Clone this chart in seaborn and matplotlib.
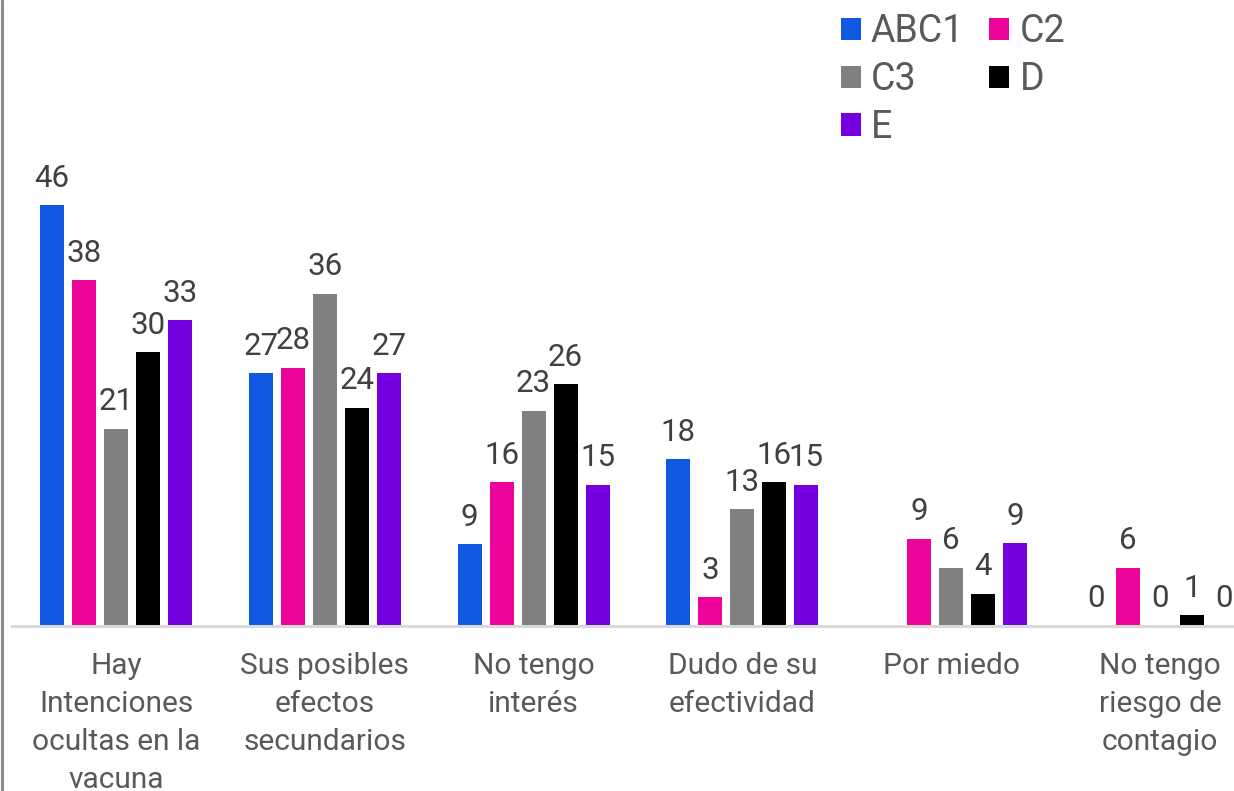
import numpy as np
import pandas as pd
import seaborn as sns
import matplotlib.pyplot as plt
from matplotlib.lines import Line2D
from matplotlib.patches import Patch

categories = [
    "Hay\nIntenciones\nocultas en la\nvacuna",
    "Sus posibles\nefectos\nsecundarios",
    "No tengo\ninterés",
    "Dudo de su\nefectividad",
    "Por miedo",
    "No tengo\nriesgo de\ncontagio",
]
series = ["ABC1", "C2", "C3", "D", "E"]
colors = ["#1158E0", "#EC0399", "#808080", "#000000", "#7400E0"]

# bar heights
abc1 = [46.0, 27.6, 8.9, 18.2, np.nan, 0.0]
c2 = [37.8, 28.2, 15.7, 3.1, 9.5, 6.3]
c3 = [21.5, 36.3, 23.5, 12.7, 6.3, 0.0]
d = [29.9, 23.8, 26.4, 15.7, 3.5, 1.1]
e = [33.4, 27.6, 15.4, 15.4, 9.0, 0.0]

# data labels as shown
abc1_lbl = ["46", "27", "9", "18", "", "0"]
c2_lbl = ["38", "28", "16", "3", "9", "6"]
c3_lbl = ["21", "36", "23", "13", "6", "0"]
d_lbl = ["30", "24", "26", "16", "4", "1"]
e_lbl = ["33", "27", "15", "15", "9", "0"]

values = [abc1, c2, c3, d, e]
labels = [abc1_lbl, c2_lbl, c3_lbl, d_lbl, e_lbl]

rows = []
for s, vals in zip(series, values):
    for c, v in zip(categories, vals):
        rows.append({"cat": c, "series": s, "value": v})
df = pd.DataFrame(rows)

sns.set_style("white")
plt.rcParams["font.family"] = ["Roboto", "DejaVu Sans"]

W, H = 1234, 791
fig = plt.figure(figsize=(W / 100, H / 100), dpi=100)
base = 625.5
step = 208.8
left = 116 - step / 2
ax = fig.add_axes([left / W, (H - base) / H, 6 * step / W, base / H])

sns.barplot(data=df, x="cat", y="value", hue="series", order=categories,
            hue_order=series, palette=colors, width=0.766, gap=0.25,
            saturation=1, linewidth=0, legend=False, ax=ax)

ax.set_xlim(-0.5, 5.5)
ax.set_ylim(0, base / 9.14)
ax.set_xlabel("")
ax.set_ylabel("")
ax.set_yticks([])
for sp in ["left", "right", "top"]:
    ax.spines[sp].set_visible(False)
ax.spines["bottom"].set_color("#d9d9d9")
ax.spines["bottom"].set_linewidth(2.2)
ax.tick_params(axis="x", length=0, pad=19, labelsize=21.5, labelcolor="#595959")
for t in ax.get_xticklabels():
    t.set_linespacing(1.46)

for cont, lbl in zip(ax.containers, labels):
    for patch in cont.patches:
        if patch is None:
            continue
        h = patch.get_height()
        if not np.isfinite(h):
            continue
        xc = patch.get_x() + patch.get_width() / 2
        idx = int(round(xc))
        txt = lbl[idx]
        if not txt:
            continue
        ax.annotate(txt, (xc, h), xytext=(0, 9), textcoords="offset points",
                    ha="center", va="bottom", fontsize=22.5, color="#404040")

# left frame line
fig.add_artist(Line2D([1.5 / W, 1.5 / W], [0, 1], color="#8c8c8c", linewidth=2.2,
                      transform=fig.transFigure))

handles = [Patch(facecolor=c, edgecolor="none") for c in colors]
order = [0, 2, 4, 1, 3]
leg = fig.legend([handles[i] for i in order], [series[i] for i in order],
                 ncol=2, loc="upper left", bbox_to_anchor=(841 / W, 1 - 13 / H),
                 frameon=False, fontsize=27, handlelength=0.53, handleheight=0.53,
                 handletextpad=0.27, columnspacing=0.67, labelspacing=0.29,
                 borderpad=0, borderaxespad=0)
for t in leg.get_texts():
    t.set_color("#595959")

fig.savefig("out.png", dpi=100)
